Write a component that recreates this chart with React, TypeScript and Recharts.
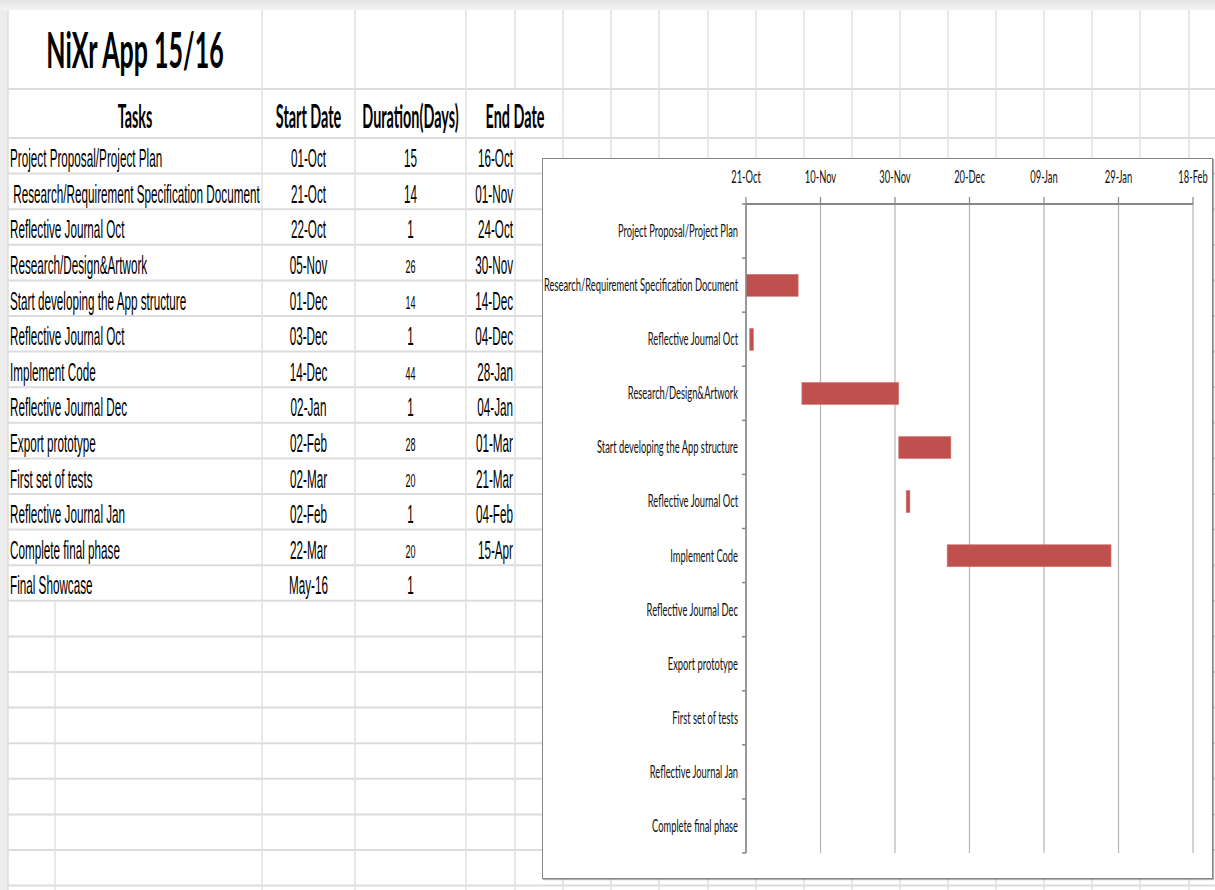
import React from 'react';
import { BarChart, Bar, XAxis, YAxis, CartesianGrid } from 'recharts';

// ---------------- data ----------------
const sheetTitle = 'NiXr App 15/16';
const headers = ['Tasks', 'Start Date', 'Duration(Days)', 'End Date'];
const tasks = [
  'Project Proposal/Project Plan',
  ' Research/Requirement Specification Document',
  'Reflective Journal Oct',
  'Research/Design&Artwork',
  'Start developing the App structure',
  'Reflective Journal Oct',
  'Implement Code',
  'Reflective Journal Dec',
  'Export prototype',
  'First set of tests',
  'Reflective Journal Jan',
  'Complete final phase',
  'Final Showcase',
];
const startDates = ['01-Oct', '21-Oct', '22-Oct', '05-Nov', '01-Dec', '03-Dec', '14-Dec', '02-Jan', '02-Feb', '02-Mar', '02-Feb', '22-Mar', 'May-16'];
const durations = [15, 14, 1, 26, 14, 1, 44, 1, 28, 20, 1, 20, 1];
const endDates = ['16-Oct', '01-Nov', '24-Oct', '30-Nov', '14-Dec', '04-Dec', '28-Jan', '04-Jan', '01-Mar', '21-Mar', '04-Feb', '15-Apr', ''];

// Gantt chart as drawn: 12 task categories, bars only for the first seven rows
const chartTasks = [
  'Project Proposal/Project Plan',
  'Research/Requirement Specification Document',
  'Reflective Journal Oct',
  'Research/Design&Artwork',
  'Start developing the App structure',
  'Reflective Journal Oct',
  'Implement Code',
  'Reflective Journal Dec',
  'Export prototype',
  'First set of tests',
  'Reflective Journal Jan',
  'Complete final phase',
];
const chartStarts: (string | null)[] = ['01-Oct', '21-Oct', '22-Oct', '05-Nov', '01-Dec', '03-Dec', '14-Dec', null, null, null, null, null];
const chartDurations: (number | null)[] = [15, 14, 1, 26, 14, 1, 44, null, null, null, null, null];
const axisTickLabels = ['21-Oct', '10-Nov', '30-Nov', '20-Dec', '09-Jan', '29-Jan', '18-Feb'];

// ---------------- helpers ----------------
const MONTHS: Record<string, number> = { Jan: 0, Feb: 1, Mar: 2, Apr: 3, May: 4, Jun: 5, Jul: 6, Aug: 7, Sep: 8, Oct: 9, Nov: 10, Dec: 11 };
const toDay = (s: string) => {
  const [d, m] = s.split('-');
  const mi = MONTHS[m];
  const year = mi >= 8 ? 2015 : 2016;
  return Date.UTC(year, mi, Number(d)) / 86400000;
};
const axisTicks = axisTickLabels.map(toDay);
const tickLabelOf = (v: number) => {
  const i = axisTicks.indexOf(v);
  return i >= 0 ? axisTickLabels[i] : '';
};

const chartData = chartTasks.map((task, i) => {
  const s = chartStarts[i];
  const d = chartDurations[i];
  return {
    task,
    range: s != null && d != null ? [toDay(s), toDay(s) + d] : undefined,
  };
});

// ---------------- styling / layout ----------------
const BAR_COLOR = '#C0504D';
const AXIS_COLOR = '#868686';
const GRID_COLOR = '#b5b5b5';
const CHART_FONT = "Lato, 'Open Sans', sans-serif";
const CHART_SX = 0.55;
const CHART_FS = 17;

const CHART_W = 669;
const CHART_H = 719;
const MARGIN = { top: 0, right: 19, bottom: 25, left: 0 };
const X_AXIS_H = 45;
const Y_AXIS_W = 203;
const BAND = (CHART_H - MARGIN.top - MARGIN.bottom - X_AXIS_H) / chartTasks.length;

const TABLE_TOP = 138;
const ROW_H = 35.6;
const SHEET_W = 1215;
const SHEET_H = 890;
const COL_LINES = [262, 355, 466, 515, 563, 611, 659, 708, 756, 804, 852, 900, 948, 996, 1044, 1092, 1140, 1189];
const BODY_FONT = "'Liberation Sans', Arial, sans-serif";
const HEAD_FONT = "Lato, 'Open Sans', sans-serif";
const BODY_SX = 0.45;
const TITLE_SX = 0.5;
const HEAD_SX = 0.45;
const smallDurationRows = [3, 4, 6, 8, 9, 11];

const XTick = (props: any) => {
  const { x, y, payload } = props;
  return (
    <text
      transform={`translate(${x},${y}) scale(${CHART_SX},1)`}
      textAnchor="middle"
      fontFamily={CHART_FONT}
      fontSize={CHART_FS}
      fill="#111"
    >
      {tickLabelOf(payload.value)}
    </text>
  );
};

const YTick = (props: any) => {
  const { x, y, payload, index } = props;
  const half = BAND / 2;
  return (
    <g>
      <text
        transform={`translate(${x},${y + 6}) scale(${CHART_SX},1)`}
        textAnchor="end"
        fontFamily={CHART_FONT}
        fontSize={CHART_FS}
        fill="#111"
      >
        {payload.value}
      </text>
      <line x1={x + 4} x2={x + 8} y1={y - half} y2={y - half} stroke={AXIS_COLOR} strokeWidth={1.5} />
      {index === chartTasks.length - 1 && (
        <line x1={x + 4} x2={x + 8} y1={y + half} y2={y + half} stroke={AXIS_COLOR} strokeWidth={1.5} />
      )}
    </g>
  );
};

const GanttBar = (props: any) => {
  const { x, y, width, height, payload } = props;
  if (!payload || !payload.range || !(width > 0) || !Number.isFinite(x)) return <g />;
  return <rect x={x} y={y} width={width} height={height} fill={BAR_COLOR} stroke="#d27c79" strokeWidth={0.6} />;
};

const rowTop = (i: number) => TABLE_TOP + i * ROW_H;

function Sheet() {
  const hLines: number[] = [89];
  for (let k = 0; TABLE_TOP + k * ROW_H < SHEET_H; k++) hLines.push(TABLE_TOP + k * ROW_H);
  const bodyText = (txt: string, x: number, y: number, anchor: string, size = 26, sx = BODY_SX) => (
    <text
      transform={`translate(${x},${y}) scale(${sx},1)`}
      textAnchor={anchor as any}
      fontFamily={BODY_FONT}
      fontSize={size}
      fill="#000"
      style={{ whiteSpace: 'pre' }}
    >
      {txt}
    </text>
  );
  const headText = (txt: string, x: number, y: number, size: number, sx: number) => (
    <text
      transform={`translate(${x},${y}) scale(${sx},1)`}
      textAnchor="middle"
      fontFamily={HEAD_FONT}
      fontWeight={700}
      fontSize={size}
      fill="#000"
    >
      {txt}
    </text>
  );
  const headerCentres = [135, 308.5, 410.5, 515];
  return (
    <svg width={SHEET_W} height={SHEET_H} style={{ position: 'absolute', left: 0, top: 0 }}>
      <defs>
        <linearGradient id="topShade" x1="0" y1="0" x2="0" y2="1">
          <stop offset="0" stopColor="#e4e4e4" />
          <stop offset="1" stopColor="#f3f3f3" />
        </linearGradient>
      </defs>
      <rect x={0} y={0} width={SHEET_W} height={SHEET_H} fill="#ffffff" />
      <rect x={0} y={0} width={8} height={SHEET_H} fill="#ececec" />
      <rect x={0} y={0} width={SHEET_W} height={10} fill="url(#topShade)" />
      {hLines.map((y, i) => (
        <line key={'h' + i} x1={8} x2={SHEET_W} y1={y} y2={y} stroke="#dcdcdc" strokeWidth={2} />
      ))}
      {COL_LINES.map((x, i) =>
        x === 515 ? (
          <g key={'v' + i}>
            <line x1={x} x2={x} y1={10} y2={89} stroke="#e2e2e2" strokeWidth={1.5} />
            <line x1={x} x2={x} y1={138} y2={SHEET_H} stroke="#e2e2e2" strokeWidth={1.5} />
          </g>
        ) : (
          <line key={'v' + i} x1={x} x2={x} y1={10} y2={SHEET_H} stroke="#e2e2e2" strokeWidth={1.5} />
        )
      )}
      <line x1={55} x2={55} y1={rowTop(tasks.length)} y2={SHEET_H} stroke="#e2e2e2" strokeWidth={1.5} />
      <line x1={8} x2={8} y1={10} y2={SHEET_H} stroke="#dcdcdc" strokeWidth={1.5} />

      {headText(sheetTitle, 135, 68, 50, TITLE_SX)}
      {headers.map((h, i) => (
        <React.Fragment key={'hd' + i}>{headText(h, headerCentres[i], 128, 32, HEAD_SX)}</React.Fragment>
      ))}
      {tasks.map((t, i) => {
        const base = rowTop(i + 1) - 6.5;
        const small = smallDurationRows.includes(i);
        return (
          <g key={'r' + i}>
            {bodyText(t, 10, base, 'start')}
            {bodyText(startDates[i], 308.5, base, 'middle')}
            {bodyText(String(durations[i]), 410.5, base - (small ? 1 : 0), 'middle', small ? 18 : 26, small ? 0.5 : BODY_SX)}
            {bodyText(endDates[i], 513, base, 'end')}
          </g>
        );
      })}
    </svg>
  );
}

export default function App() {
  return (
    <div style={{ position: 'absolute', left: 0, top: 0, width: SHEET_W, height: SHEET_H, overflow: 'hidden', background: '#fff' }}>
      <Sheet />
      <div
        style={{
          position: 'absolute',
          left: 542,
          top: 158,
          width: CHART_W + 2,
          height: CHART_H + 2,
          boxSizing: 'border-box',
          border: '1px solid #858585',
          boxShadow: '1px 1px 1px rgba(0,0,0,0.3)',
          background: '#fff',
        }}
      >
        <BarChart
          width={CHART_W}
          height={CHART_H}
          data={chartData}
          layout="vertical"
          margin={MARGIN}
          barCategoryGap="30%"
        >
          <CartesianGrid horizontal={false} vertical stroke={GRID_COLOR} strokeWidth={1.2} />
          <XAxis
            type="number"
            orientation="top"
            domain={[axisTicks[0], axisTicks[axisTicks.length - 1]]}
            ticks={axisTicks}
            allowDataOverflow
            height={X_AXIS_H}
            tickSize={7}
            tickMargin={14}
            axisLine={{ stroke: AXIS_COLOR, strokeWidth: 2 }}
            tickLine={{ stroke: AXIS_COLOR, strokeWidth: 1.2 }}
            tick={<XTick />}
            interval={0}
          />
          <YAxis
            type="category"
            dataKey="task"
            width={Y_AXIS_W}
            tickSize={4}
            tickMargin={4}
            axisLine={{ stroke: AXIS_COLOR, strokeWidth: 1.5 }}
            tickLine={false}
            tick={<YTick />}
            interval={0}
          />
          <Bar dataKey="range" fill={BAR_COLOR} isAnimationActive={false} shape={<GanttBar />} />
        </BarChart>
      </div>
    </div>
  );
}
